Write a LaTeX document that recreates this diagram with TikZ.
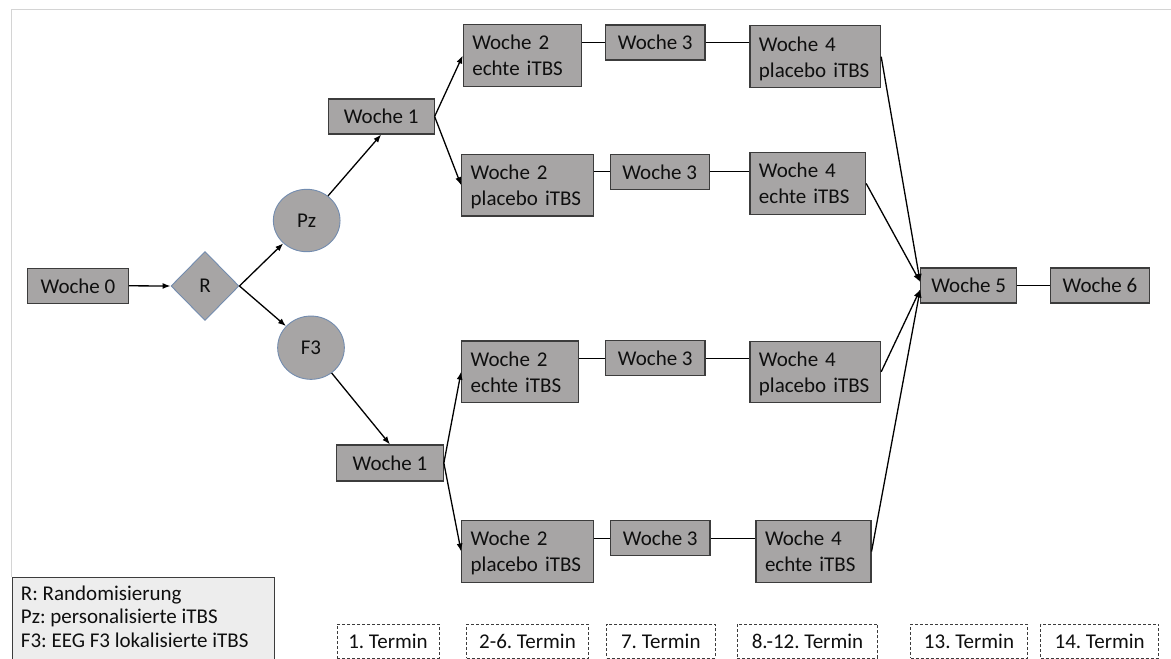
\documentclass[tikz,border=0pt]{standalone}
\usepackage{fontspec}
\setmainfont{Carlito}
\usetikzlibrary{shapes.geometric,arrows.meta}
\definecolor{boxfill}{RGB}{167,165,165}
\definecolor{boxline}{RGB}{60,60,60}
\definecolor{blueline}{RGB}{115,140,175}
\definecolor{legfill}{RGB}{237,237,237}
\definecolor{framegray}{RGB}{212,212,212}
\definecolor{txt}{RGB}{15,15,15}
\frenchspacing
\begin{document}
\begin{tikzpicture}[x=1pt,y=-1pt,
  font=\fontsize{21}{26}\selectfont, text=txt,
  wk/.style={draw=boxline, fill=boxfill, line width=1.1pt, rectangle, inner sep=0pt, minimum height=35pt},
  wktwo/.style={draw=boxline, fill=boxfill, line width=1.1pt, rectangle, inner xsep=9pt, inner ysep=0pt,
    minimum height=61.5pt, align=left, text width=#1, text height=14.7pt, text depth=26pt},
  rund/.style={ellipse, draw=blueline, fill=boxfill, line width=0.9pt, inner sep=0pt},
  raute/.style={diamond, draw=blueline, fill=boxfill, line width=0.9pt, inner sep=0pt, aspect=1},
  termin/.style={draw=boxline, fill=white, line width=0.8pt, dash pattern=on 3pt off 2pt, rectangle,
    inner sep=0pt, minimum height=34pt},
  arr/.style={-{Latex[length=8pt,width=6pt]}, line width=1.3pt, draw=black},
  ln/.style={line width=1.3pt, draw=black}
]
\useasboundingbox (0,0) rectangle (1171,659);
% faint frame
\draw[framegray, line width=1pt] (11.5,577) -- (11.5,9.5) -- (1171,9.5);

% nodes
\node[wk, minimum width=100.6pt] (w0) at (78,285.8) {Woche 0};
\node[raute, minimum width=68pt, minimum height=69pt] (r) at (205,286) {R};
\node[rund, minimum width=66.7pt, minimum height=62.4pt] (pz) at (306.7,220.5) {Pz};
\node[rund, minimum width=66.7pt, minimum height=63.3pt] (f3) at (311,347.7) {F3};
\node[wk, minimum width=105.7pt] (w1t) at (381.2,116.5) {Woche 1};
\node[wk, minimum width=106.6pt, minimum height=36pt] (w1b) at (390,463) {Woche 1};

\node[wktwo=100.4pt] (w2a) at (522.5,55.5) {Woche 2\\echte iTBS};
\node[wk, minimum width=99.3pt] (w3a) at (655.3,42.5) {Woche 3};
\node[wktwo=112.7pt, minimum height=62pt] (w4a) at (815.3,56.7) {Woche 4\\placebo iTBS};

\node[wktwo=113.6pt] (w2b) at (527.5,185.2) {Woche 2\\placebo iTBS};
\node[wk, minimum width=99.3pt] (w3b) at (659.7,171.8) {Woche 3};
\node[wktwo=97.7pt] (w4b) at (807.8,183.5) {Woche 4\\echte iTBS};

\node[wktwo=98.6pt] (w2c) at (520,371.7) {Woche 2\\echte iTBS};
\node[wk, minimum width=99.3pt] (w3c) at (655.3,358.3) {Woche 3};
\node[wktwo=112.7pt] (w4c) at (815.3,371.8) {Woche 4\\placebo iTBS};

\node[wktwo=113.6pt] (w2d) at (527.5,551.5) {Woche 2\\placebo iTBS};
\node[wk, minimum width=99.3pt] (w3d) at (660.3,538.3) {Woche 3};
\node[wktwo=97pt] (w4d) at (813.5,551.5) {Woche 4\\echte iTBS};

\node[wk, minimum width=96pt] (w5) at (968.7,285.5) {Woche 5};
\node[wk, minimum width=98.6pt] (w6) at (1100,285.5) {Woche 6};

% connectors
\draw[arr] (w0.east) -- (r.west);
\draw[arr] (r.east) -- (pz);
\draw[arr] (r.east) -- (f3);
\draw[arr] (pz) -- (w1t.south);
\draw[arr] (f3) -- (w1b.north);
\draw[arr] (w1t.east) -- (w2a.west);
\draw[arr] (w1t.east) -- (w2b.west);
\draw[arr] (w1b.east) -- (w2c.west);
\draw[arr] (w1b.east) -- (w2d.west);

\draw[ln] (w3a.west) -- (w3a.west -| w2a.east);
\draw[ln] (w3a.east) -- (w3a.east -| w4a.west);
\draw[ln] (w3b.west) -- (w3b.west -| w2b.east);
\draw[ln] (w3b.east) -- (w3b.east -| w4b.west);
\draw[ln] (w3c.west) -- (w3c.west -| w2c.east);
\draw[ln] (w3c.east) -- (w3c.east -| w4c.west);
\draw[ln] (w3d.west) -- (w3d.west -| w2d.east);
\draw[ln] (w3d.east) -- (w3d.east -| w4d.west);

\draw[arr] (w4a.east) -- ([yshift=3.5pt]w5.west);
\draw[arr] (w4b.east) -- ([yshift=3.5pt]w5.west);
\draw[arr] (w4c.east) -- ([yshift=-4pt]w5.west);
\draw[arr] (w4d.east) -- ([yshift=-4pt]w5.west);
\draw[ln] (w5.east) -- (w6.west);

% legend
\fill[legfill] (12,577) rectangle (274,659);
\draw[boxline, line width=1pt] (12,659) -- (12,577) -- (274,577) -- (274,659);
\node[anchor=north west, inner sep=0pt, align=left, font=\fontsize{21}{23.5}\selectfont] (legend) at (20.7,585.3)
  {R: Randomisierung\\Pz: personalisierte iTBS\\F3: EEG F3 lokalisierte iTBS};

% Termine
\node[termin, minimum width=102pt] (t1) at (388,641) {1. Termin};
\node[termin, minimum width=121.6pt] (t2) at (527.5,641) {2-6. Termin};
\node[termin, minimum width=108.3pt] (t3) at (660.8,641) {7. Termin};
\node[termin, minimum width=140.4pt] (t4) at (807.5,641) {8.-12. Termin};
\node[termin, minimum width=116.6pt] (t5) at (969,641) {13. Termin};
\node[termin, minimum width=118pt] (t6) at (1099.7,641) {14. Termin};
\end{tikzpicture}
\end{document}
